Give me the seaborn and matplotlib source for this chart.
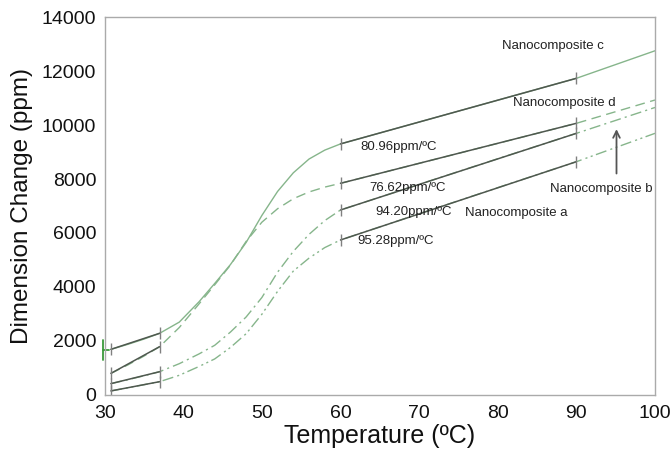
import matplotlib
matplotlib.use("Agg")
import matplotlib.pyplot as plt
import seaborn as sns
import pandas as pd
import numpy as np

sns.set_theme(style="white")
plt.rcParams['font.family'] = ['Liberation Sans', 'DejaVu Sans']

# ---- data ----
temps = [30.8, 33, 35, 37, 39.5, 42, 44, 46, 48, 50, 52, 54, 56, 58, 60, 70, 80, 90, 100]
nano_c = [1690, 1880, 2070, 2285, 2700, 3450, 4130, 4830, 5650, 6650, 7540, 8230, 8740, 9070, 9300, 10110, 10920, 11730, 12750]
nano_d = [800, 1120, 1440, 1790, 2500, 3370, 4080, 4810, 5690, 6400, 6900, 7270, 7520, 7700, 7840, 8580, 9320, 10063, 10926]
nano_b = [420, 570, 710, 863, 1160, 1520, 1840, 2330, 2890, 3610, 4550, 5320, 5950, 6460, 6852, 7800, 8750, 9692, 10650]
nano_a = [150, 270, 380, 493, 730, 1055, 1335, 1760, 2270, 2990, 3840, 4590, 5070, 5460, 5741, 6710, 7680, 8641, 9692]

series_names = ["Nanocomposite c", "Nanocomposite d", "Nanocomposite b", "Nanocomposite a"]
series_values = [nano_c, nano_d, nano_b, nano_a]
fit_ranges = [(30.8, 37), (60, 90)]
slope_labels = ["80.96ppm/ºC", "76.62ppm/ºC", "94.20ppm/ºC", "95.28ppm/ºC"]

df = pd.DataFrame({
    "Temperature": np.tile(temps, len(series_names)),
    "Dimension": np.concatenate(series_values),
    "Sample": np.repeat(series_names, len(temps)),
})

fig = plt.figure(figsize=(6.71, 4.49), dpi=100)
ax = fig.add_axes([0.1559, 0.1203, 0.8203, 0.8418])

curve_color = "#86b58b"
dashes = {
    "Nanocomposite c": "",
    "Nanocomposite d": (7, 4),
    "Nanocomposite b": (8, 3, 1.5, 3),
    "Nanocomposite a": (8, 3, 1.5, 2.5, 1.5, 2.5),
}
sns.lineplot(data=df, x="Temperature", y="Dimension", hue="Sample", style="Sample",
             palette={n: curve_color for n in series_names}, dashes=dashes,
             linewidth=1.0, legend=False, ax=ax, sort=True)

# fitted segments (dark) with end ticks
for name in series_names:
    sub = df[df["Sample"] == name].set_index("Temperature")["Dimension"]
    for lo, hi in fit_ranges:
        seg = sub.loc[[lo, hi]]
        sns.lineplot(x=seg.index.values, y=seg.values, color="#4f584f", linewidth=1.1,
                     marker="|", markersize=9, markeredgewidth=1.0, markeredgecolor="#808080",
                     ax=ax, legend=False)

ax.set_xlim(30, 100)
ax.set_ylim(0, 14000)
ax.set_xticks(range(30, 101, 10))
ax.set_yticks(range(0, 14001, 2000))
ax.set_xticks(range(35, 100, 10), minor=True)
ax.set_yticks(range(1000, 14000, 2000), minor=True)
ax.tick_params(axis="both", which="major", labelsize=14, length=4, width=0.8,
               color="#888888", direction="out", labelcolor="#111111")
ax.tick_params(axis="y", which="major", pad=2)
ax.tick_params(axis="x", which="major", pad=3)
ax.tick_params(axis="both", which="minor", length=2, width=0.8, color="#999999", direction="out")
for s in ax.spines.values():
    s.set_color("#aaaaaa")
    s.set_linewidth(1.0)
ax.set_xlabel("Temperature (ºC)", fontsize=18, labelpad=2, color="#111111")
ax.set_ylabel("Dimension Change (ppm)", fontsize=17.5, labelpad=6, color="#111111")

tfs = 9.5
# slope annotations
slope_pos = [(67.4, 9197), (68.5, 7656), (69.3, 6790), (67.0, 5716)]
for lab, (x, y) in zip(slope_labels, slope_pos):
    ax.text(x, y, lab, fontsize=tfs, ha="center", va="center", color="#222222")

name_pos = {"Nanocomposite c": (87.0, 12940), "Nanocomposite d": (88.4, 10826),
            "Nanocomposite b": (93.2, 7630), "Nanocomposite a": (82.4, 6740)}
for name, (x, y) in name_pos.items():
    ax.text(x, y, name, fontsize=tfs, ha="center", va="center", color="#222222")

ax.annotate("", xy=(95.1, 9950), xytext=(95.1, 8100),
            arrowprops=dict(arrowstyle="->", color="#555555", lw=1.3))

# small green mark at the y axis
ax.plot([29.85, 29.85], [1300, 2050], color="#3a9a3a", lw=1.3, clip_on=False)
ax.plot([29.85, 30.6], [1650, 1650], color="#3a9a3a", lw=1.3, clip_on=False)

fig.savefig("out.png", dpi=100)
